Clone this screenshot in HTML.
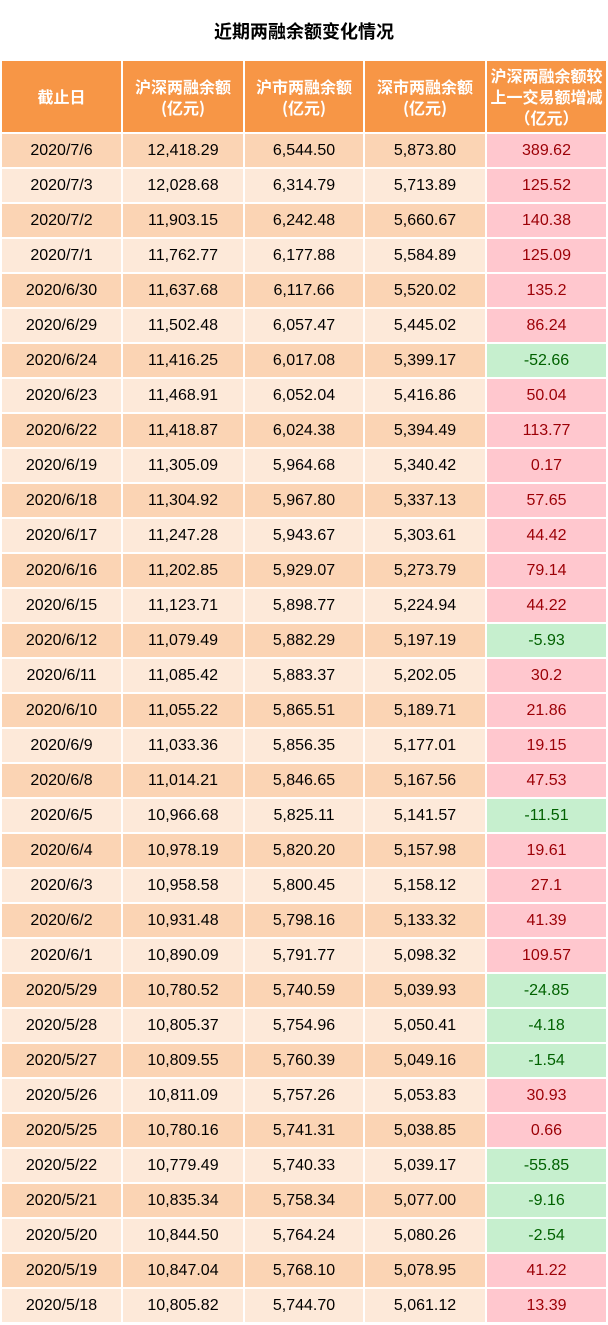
<!DOCTYPE html>
<html><head><meta charset="utf-8">
<style>
body{margin:0;width:608px;height:1325px;background:#fff;font-family:"Liberation Sans","Noto Sans CJK SC",sans-serif;position:relative;overflow:hidden}
#title{position:absolute;left:0;top:19px;width:608px;text-align:center;font-size:18px;font-weight:bold;color:#000;font-family:"Noto Sans CJK SC",sans-serif;line-height:24px}
.c{position:absolute;display:flex;align-items:center;justify-content:center;text-align:center;box-sizing:border-box}
.h{background:#F79646;color:#fff;font-size:16px;font-weight:bold;line-height:21px;font-family:"Noto Sans CJK SC",sans-serif}
.d{font-size:16px;color:#000}
</style></head><body>
<div id="title">近期两融余额变化情况</div>
<div id="tbl"></div>
<script>
const dates=["2020/7/6","2020/7/3","2020/7/2","2020/7/1","2020/6/30","2020/6/29","2020/6/24","2020/6/23","2020/6/22","2020/6/19","2020/6/18","2020/6/17","2020/6/16","2020/6/15","2020/6/12","2020/6/11","2020/6/10","2020/6/9","2020/6/8","2020/6/5","2020/6/4","2020/6/3","2020/6/2","2020/6/1","2020/5/29","2020/5/28","2020/5/27","2020/5/26","2020/5/25","2020/5/22","2020/5/21","2020/5/20","2020/5/19","2020/5/18"];
const total=["12,418.29","12,028.68","11,903.15","11,762.77","11,637.68","11,502.48","11,416.25","11,468.91","11,418.87","11,305.09","11,304.92","11,247.28","11,202.85","11,123.71","11,079.49","11,085.42","11,055.22","11,033.36","11,014.21","10,966.68","10,978.19","10,958.58","10,931.48","10,890.09","10,780.52","10,805.37","10,809.55","10,811.09","10,780.16","10,779.49","10,835.34","10,844.50","10,847.04","10,805.82"];
const sh=["6,544.50","6,314.79","6,242.48","6,177.88","6,117.66","6,057.47","6,017.08","6,052.04","6,024.38","5,964.68","5,967.80","5,943.67","5,929.07","5,898.77","5,882.29","5,883.37","5,865.51","5,856.35","5,846.65","5,825.11","5,820.20","5,800.45","5,798.16","5,791.77","5,740.59","5,754.96","5,760.39","5,757.26","5,741.31","5,740.33","5,758.34","5,764.24","5,768.10","5,744.70"];
const sz=["5,873.80","5,713.89","5,660.67","5,584.89","5,520.02","5,445.02","5,399.17","5,416.86","5,394.49","5,340.42","5,337.13","5,303.61","5,273.79","5,224.94","5,197.19","5,202.05","5,189.71","5,177.01","5,167.56","5,141.57","5,157.98","5,158.12","5,133.32","5,098.32","5,039.93","5,050.41","5,049.16","5,053.83","5,038.85","5,039.17","5,077.00","5,080.26","5,078.95","5,061.12"];
const change=["389.62","125.52","140.38","125.09","135.2","86.24","-52.66","50.04","113.77","0.17","57.65","44.42","79.14","44.22","-5.93","30.2","21.86","19.15","47.53","-11.51","19.61","27.1","41.39","109.57","-24.85","-4.18","-1.54","30.93","0.66","-55.85","-9.16","-2.54","41.22","13.39"];
const headers=["截止日","沪深两融余额<br>(亿元)","沪市两融余额<br>(亿元)","深市两融余额<br>(亿元)","沪深两融余额较<br>上一交易额增减<br>（亿元）"];
const colX=[2,123,245,365,487], colW=[119,120,118,120,119];
const tbl=document.getElementById('tbl');
function cell(x,y,w,h,cls,html,bg,color){const d=document.createElement('div');d.className='c '+cls;d.style.left=x+'px';d.style.top=y+'px';d.style.width=w+'px';d.style.height=h+'px';if(bg)d.style.background=bg;if(color)d.style.color=color;d.innerHTML=html;tbl.appendChild(d);return d;}
headers.forEach((t,i)=>{const d=cell(colX[i],61,colW[i],71,'h',t);

});
dates.forEach((dt,r)=>{
  const y=134+r*35, h=33;
  const bg=r%2===0?'#FBD4B4':'#FDE9D9';
  const vals=[dt,total[r],sh[r],sz[r],change[r]];
  vals.forEach((v,i)=>{
    let b=bg,c='#000';
    if(i===4){const neg=parseFloat(v)<0;b=neg?'#C6EFCE':'#FFC7CE';c=neg?'#006100':'#9C0006';}
    const d=cell(colX[i],y,colW[i],h,'d',v,b,c);
    
    
  });
});
</script>
</body></html>
